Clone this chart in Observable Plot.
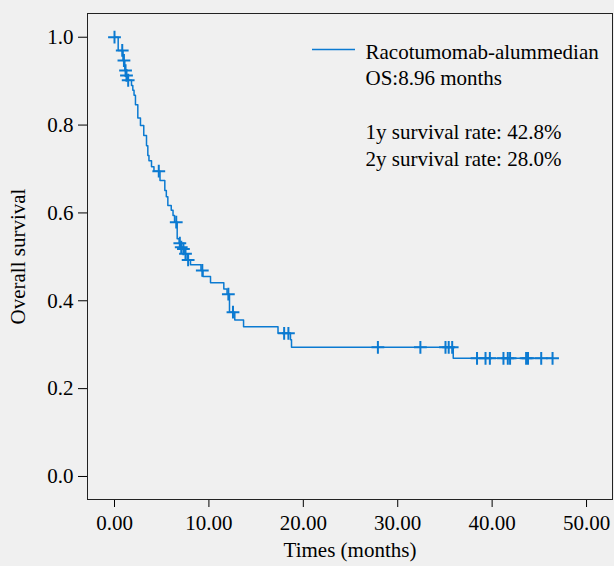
<!DOCTYPE html>
<html><head><meta charset="utf-8">
<script src="https://cdn.jsdelivr.net/npm/d3@7"></script>
<script src="https://cdn.jsdelivr.net/npm/@observablehq/plot@0.6"></script>
<style>
html,body{margin:0;padding:0;background:#f0f0f0;}
#chart{position:relative;width:614px;height:566px;}
</style></head><body><div id="chart"></div>
<script>
// Kaplan-Meier step data
const eventTimes = [0.39,0.90,1.09,1.24,1.38,1.80,1.94,2.07,2.22,2.47,2.75,3.10,3.39,3.53,3.65,3.92,4.18,4.82,5.33,5.49,5.65,6.01,6.20,6.36,6.64,6.85,7.00,7.25,7.45,7.70,8.05,9.16,9.37,10.17,11.58,11.92,12.18,12.74,13.67,17.32,18.64,18.75,35.88];
const eventSurvival = [0.970,0.947,0.924,0.913,0.902,0.890,0.879,0.868,0.846,0.816,0.799,0.776,0.753,0.731,0.719,0.705,0.695,0.674,0.651,0.637,0.617,0.606,0.594,0.579,0.541,0.531,0.522,0.518,0.507,0.493,0.482,0.469,0.455,0.441,0.427,0.415,0.374,0.356,0.341,0.326,0.311,0.294,0.269];
const censorTimes = [0,0.82,1.0,1.17,1.27,1.45,4.69,6.54,6.92,7.07,7.30,7.52,7.80,9.30,12.06,12.55,17.97,18.42,27.9,32.4,35.06,35.4,35.77,38.4,39.3,39.76,41.2,41.66,41.9,43.6,43.8,45.2,46.4];
const lastFollowUp = 46.4;
const xTicks = [0,10,20,30,40,50];
const yTicks = [0,0.2,0.4,0.6,0.8,1.0];
const xLabel = "Times (months)";
const yLabel = "Overall survival";
const legendLines = ["Racotumomab-alummedian","OS:8.96 months","","1y survival rate: 42.8%","2y survival rate: 28.0%"];

const color = "#0b7ad1";
const font = "'Liberation Serif','Times New Roman',serif";

const curve = [{t:0, s:1}];
eventTimes.forEach((t,i)=>curve.push({t, s:eventSurvival[i]}));
curve.push({t:lastFollowUp, s:eventSurvival[eventSurvival.length-1]});
function survAt(t){ let s=1; for(let i=0;i<eventTimes.length;i++){ if(eventTimes[i]<=t) s=eventSurvival[i]; } return s; }
const censors = censorTimes.map(t=>({t, s:survAt(t)}));

const W=614, H=566, ML=87, MR=2, MT=13, MB=67;
const plot = Plot.plot({
  width: W, height: H,
  marginLeft: ML, marginRight: MR, marginTop: MT, marginBottom: MB,
  style: {background:"#f0f0f0", fontFamily: font, fontSize:"21px", color:"black", overflow:"visible"},
  x: {domain:[-2.86, 52.75]},
  y: {domain:[-0.0524, 1.054]},
  marks: [
    Plot.axisX({ticks:xTicks, tickFormat:d3.format(".2f"), tickSize:8, tickPadding:8, label:null, fontSize:21}),
    Plot.axisY({ticks:yTicks, tickFormat:d3.format(".1f"), tickSize:9, tickPadding:5, label:null, fontSize:21}),
    Plot.frame({stroke:"#222", strokeWidth:1}),
    Plot.line(curve, {x:"t", y:"s", curve:"step-after", stroke:color, strokeWidth:1.5}),
    Plot.dot(censors, {x:"t", y:"s", symbol:"plus", r:4.2, stroke:color, strokeWidth:2}),
    Plot.text([xLabel], {frameAnchor:"bottom", dy:51, lineAnchor:"middle", fontSize:21}),
    Plot.text([yLabel], {frameAnchor:"left", dx:-69, rotate:-90, lineAnchor:"middle", textAnchor:"middle", fontSize:21}),
    Plot.text([legendLines.join("\n")], {frameAnchor:"top-left", dx:278, dy:26.4, textAnchor:"start", lineAnchor:"top", lineHeight:1.27, fontSize:21})
  ]
});
d3.select(plot).append("line")
  .attr("x1",312).attr("x2",355).attr("y1",49.5).attr("y2",49.5)
  .attr("stroke",color).attr("stroke-width",1.6);
document.getElementById("chart").appendChild(plot);
</script></body></html>
